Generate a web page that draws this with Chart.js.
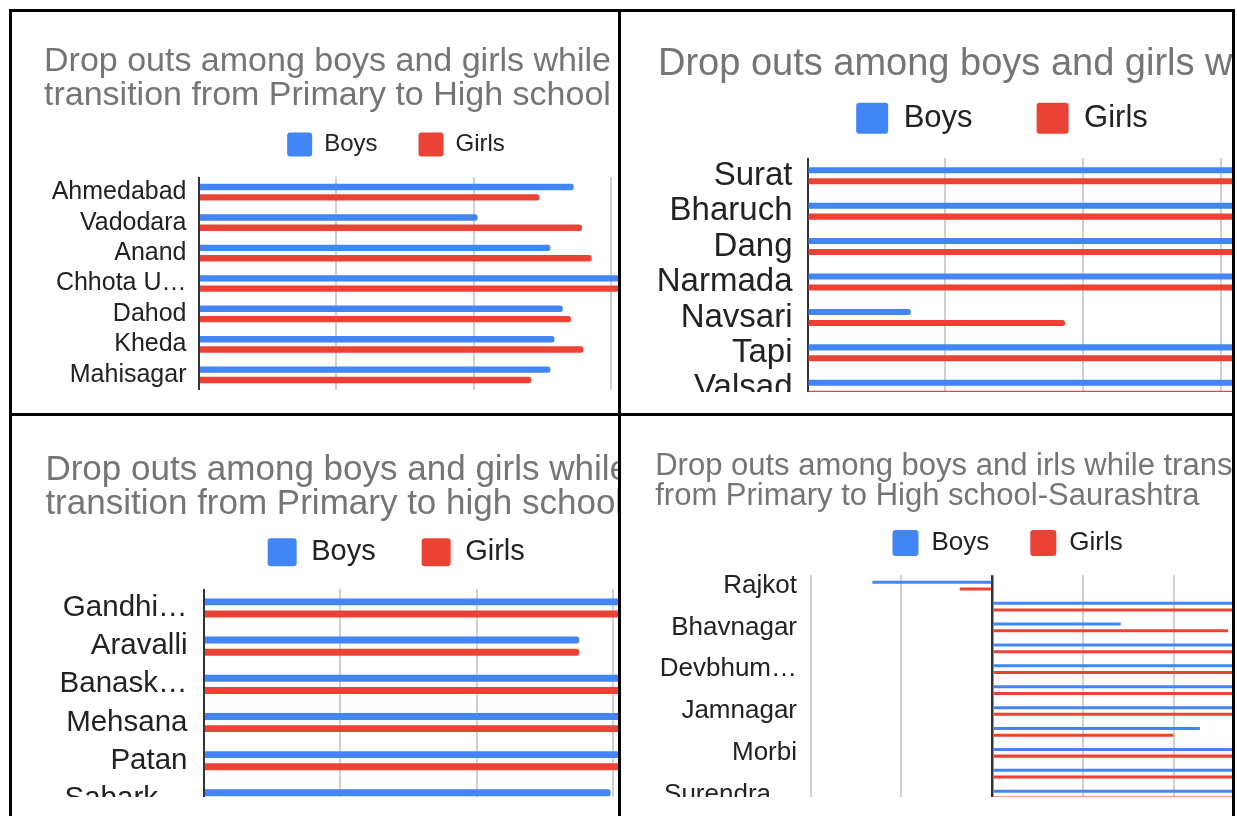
<!DOCTYPE html>
<html>
<head>
<meta charset="utf-8">
<script src="https://cdn.jsdelivr.net/npm/chart.js@4.4.1/dist/chart.umd.min.js"></script>
<style>
  body { margin: 0; background: #fff; width: 1237px; height: 816px; position: relative; overflow: hidden; }
  .line { position: absolute; background: #000; }
  .clip { position: absolute; overflow: hidden; background: #fff; }
  .clip canvas { position: absolute; left: 0; top: 0; }
</style>
</head>
<body>
<div class="clip" style="left:12px;top:12px;width:606px;height:381px"><canvas id="central" width="746" height="378"></canvas></div>
<div class="clip" style="left:621px;top:12px;width:611px;height:380px"><canvas id="south" width="735" height="394"></canvas></div>
<div class="clip" style="left:12px;top:417px;width:606px;height:380px"><canvas id="north" width="745" height="401"></canvas></div>
<div class="clip" style="left:621px;top:417px;width:611px;height:380px"><canvas id="saurashtra" width="749" height="388"></canvas></div>

<div class="line" style="left:9px;top:9px;width:1226px;height:3px"></div>
<div class="line" style="left:9px;top:413px;width:1226px;height:3px"></div>
<div class="line" style="left:9px;top:9px;width:3px;height:807px"></div>
<div class="line" style="left:618px;top:9px;width:3px;height:807px"></div>
<div class="line" style="left:1232px;top:9px;width:3px;height:807px"></div>

<script>
// data (one gridline = 10)
const centralTitle = ['Drop outs among boys and girls while', 'transition from Primary to High school'];
const centralDistricts = ['Ahmedabad', 'Vadodara', 'Anand', 'Chhota U…', 'Dahod', 'Kheda', 'Mahisagar'];
const centralBoys = [27.3, 20.3, 25.6, 34.2, 26.5, 25.9, 25.6];
const centralGirls = [24.8, 27.9, 28.6, 36.5, 27.1, 28.0, 24.2];

const southTitle = ['Drop outs among boys and girls while'];
const southDistricts = ['Surat', 'Bharuch', 'Dang', 'Narmada', 'Navsari', 'Tapi', 'Valsad'];
const southBoys = [35.2, 33.8, 37.5, 34.6, 7.5, 36.1, 33.0];
const southGirls = [34.0, 35.7, 38.2, 36.9, 18.7, 35.3, 34.4];

const northTitle = ['Drop outs among boys and girls while', 'transition from Primary to high school'];
const northDistricts = ['Gandhi…', 'Aravalli', 'Banask…', 'Mehsana', 'Patan', 'Sabark…'];
const northBoys = [34.5, 27.5, 36.8, 33.2, 35.9, 29.8];
const northGirls = [33.1, 27.5, 37.4, 34.8, 34.2, 32.6];

const saurashtraTitle = ['Drop outs among boys and irls while transition', 'from Primary to High school-Saurashtra'];
const saurashtraDistricts = ['Rajkot', 'Amreli', 'Bhavnagar', 'Botad', 'Devbhum…', 'Gir Somnath', 'Jamnagar', 'Junagadh', 'Morbi', 'Porbandar', 'Surendra…'];
const saurashtraBoys = [-13.2, 31.5, 14.1, 33.4, 30.8, 34.7, 32.2, 22.8, 35.1, 30.4, 33.6];
const saurashtraGirls = [-3.6, 32.8, 25.9, 30.9, 34.3, 31.7, 33.9, 19.9, 32.5, 34.0, 31.2];

Chart.defaults.font.family = '"Liberation Sans", Arial, Helvetica, sans-serif';
Chart.defaults.color = '#222';

const BLUE = '#4285f4';
const RED = '#ea4335';

function drawPanel(id, labels, boys, girls, titleLines, p) {
  const bar = {
    borderWidth: 0,
    borderRadius: p.radius,
    categoryPercentage: p.catPct,
    barPercentage: p.barPct
  };
  const ticks = { autoSkip: false, padding: p.tickPad, font: { size: p.labelSize }, color: '#222' };
  if (p.everyOther) {
    ticks.callback = (v, i) => (i % 2 ? '' : labels[i]);
  }

  return new Chart(document.getElementById(id), {
    type: 'bar',
    data: {
      labels: labels,
      datasets: [
        Object.assign({ label: 'Boys', data: boys, backgroundColor: BLUE }, bar),
        Object.assign({ label: 'Girls', data: girls, backgroundColor: RED }, bar)
      ]
    },
    options: {
      indexAxis: 'y',
      responsive: false,
      animation: false,
      layout: { padding: { left: p.padLeft, right: 10, top: 0, bottom: 0 } },
      plugins: {
        tooltip: { enabled: false },
        title: {
          display: true,
          text: titleLines,
          align: 'start',
          color: '#757575',
          font: { size: p.titleSize, weight: 'normal', lineHeight: p.titleLine + 'px' },
          padding: { top: p.titleTop, bottom: p.titleBottom }
        },
        legend: {
          labels: {
            color: '#222',
            font: { size: p.legendSize },
            boxWidth: p.boxW,
            boxHeight: p.boxH,
            padding: p.legendPad,
            useBorderRadius: true,
            borderRadius: 3
          }
        }
      },
      scales: {
        x: {
          min: p.xMin,
          max: p.xMax,
          ticks: { display: false, stepSize: 10 },
          border: { display: false },
          grid: {
            drawTicks: false,
            color: ctx => (ctx.tick && ctx.tick.value === 0 ? '#333' : '#d0d0d0'),
            lineWidth: ctx => (ctx.tick && ctx.tick.value === 0 ? p.zeroWidth : 2)
          }
        },
        y: {
          grid: { display: false, drawTicks: false },
          border: { display: false },
          ticks: ticks,
          afterFit: scale => {
            scale.width = p.yWidth;
            scale.paddingTop = 0;
            scale.paddingBottom = 0;
          }
        }
      }
    },
    plugins: [{
      id: 'legendGap',
      beforeInit(chart) {
        const fit = chart.legend.fit;
        chart.legend.fit = function () {
          fit.call(this);
          this.height += p.legendGap;
        };
      }
    }]
  });
}

drawPanel('central', centralDistricts, centralBoys, centralGirls, centralTitle, {
  padLeft: 32, titleSize: 34, titleLine: 34, titleTop: 33, titleBottom: -21.5,
  legendSize: 24, boxW: 25, boxH: 24, legendPad: 41, legendGap: 10.5,
  yWidth: 155, tickPad: 12.5, labelSize: 25,
  xMin: 0, xMax: 40, catPct: 0.677, barPct: 0.62, radius: 2.5, zeroWidth: 2
});

drawPanel('south', southDistricts, southBoys, southGirls, southTitle, {
  padLeft: 37, titleSize: 38, titleLine: 38, titleTop: 34, titleBottom: -45.3,
  legendSize: 31, boxW: 32, boxH: 31, legendPad: 64, legendGap: 14.3,
  yWidth: 149.5, tickPad: 15, labelSize: 33,
  xMin: 0, xMax: 39.1, catPct: 0.62, barPct: 0.55, radius: 2.5, zeroWidth: 2
});

drawPanel('north', northDistricts, northBoys, northGirls, northTitle, {
  padLeft: 33.4, titleSize: 35, titleLine: 34, titleTop: 36.6, titleBottom: -29.8,
  legendSize: 29, boxW: 29, boxH: 28, legendPad: 46, legendGap: 12.1,
  yWidth: 158.6, tickPad: 16.5, labelSize: 29.5,
  xMin: 0, xMax: 39.8, catPct: 0.639, barPct: 0.57, radius: 2.5, zeroWidth: 2
});

drawPanel('saurashtra', saurashtraDistricts, saurashtraBoys, saurashtraGirls, saurashtraTitle, {
  padLeft: 34.2, titleSize: 31, titleLine: 30, titleTop: 34, titleBottom: -22,
  legendSize: 26, boxW: 26, boxH: 26, legendPad: 41, legendGap: 9.2,
  yWidth: 155.3, tickPad: 13.5, labelSize: 26,
  xMin: -20, xMax: 40.4, catPct: 0.642, barPct: 0.45, radius: 0, zeroWidth: 2.5,
  everyOther: true
});
</script>
</body>
</html>
